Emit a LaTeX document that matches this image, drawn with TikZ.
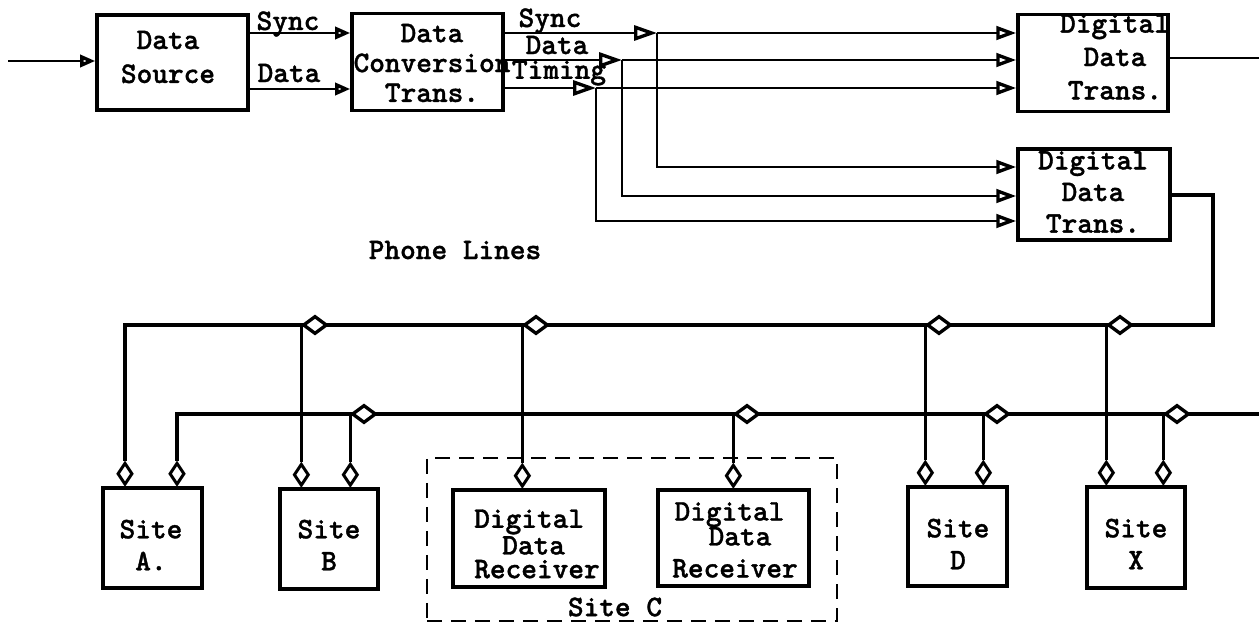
\documentclass[tikz,border=0pt]{standalone}
\usepackage{fontspec}
\newfontfamily\typew{lmmonolt10-bold.otf}[FakeBold=1.2]
\usetikzlibrary{arrows.meta,shapes.geometric}
\begin{document}
\begin{tikzpicture}[x=0.02cm,y=-0.02cm,
 tw/.style={font=\typew\fontsize{17}{#1}\selectfont}, tw/.default=18.5pt,
 box/.style={draw,line width=2pt,inner sep=0pt},
 bw/.style 2 args={minimum width=#1*0.02cm,minimum height=#2*0.02cm},
 txt/.style={tw=#1,inner sep=0pt,align=center}, txt/.default=18.5pt,
 sig/.style={line width=1.7pt},
 arrS/.style={sig,-{Triangle[open,length=0.3cm,width=0.24cm,line width=1.9pt]}},
 arrM/.style={sig,-{Triangle[open,length=0.46cm,width=0.3cm,line width=1.9pt]}},
 arrD/.style={sig,-{Triangle[open,length=0.4cm,width=0.27cm,line width=1.9pt]}},
 bus/.style={line width=2.2pt},
 bustwo/.style={line width=1.8pt},
 drop/.style={line width=1.5pt},
 pdia/.style={diamond,draw,fill=white,line width=1.9pt,inner sep=0pt,minimum width=0.48cm,minimum height=0.36cm},
 sdia/.style={diamond,draw,fill=white,line width=1.7pt,inner sep=0pt,minimum width=0.3cm,minimum height=0.44cm},
 sitec/.style={draw,line width=1.5pt,dash pattern=on 0.3cm off 0.18cm,inner sep=0pt},
]
\useasboundingbox (0,0) rectangle (1259,622);
% ---- top row boxes
\node[box,bw={151}{95}] (ds) at (172.5,62.5) {};
\node[txt=19.3pt] (dst) at (168,57) {Data\\Source};
\node[box,bw={151}{97}] (dct) at (427.5,62) {};
\node[txt=17pt] (dctt) at (432,63) {Data\\Conversion\\Trans.};
\node[box,bw={150}{97}] (ddt1) at (1093,63) {};
\node[txt=19pt] (ddt1t) at (1115,57) {Digital\\Data\\Trans.};
\node[box,bw={152}{91}] (ddt2) at (1094,194.5) {};
\node[txt=18pt] (ddt2t) at (1093,192) {Digital\\Data\\Trans.};
% ---- signal labels
\node[tw] (lsync1) at (288,24) {Sync};
\node[tw] (ldata1) at (289,73) {Data};
\node[tw] (lsync2) at (550,21) {Sync};
\node[tw] (ldata2) at (557,45) {Data};
\node[tw] (ltim) at (559,73) {Timing};
\node[tw] (pl) at (455,250) {Phone Lines};
% ---- coordinates
\coordinate (in) at (8,61);
\coordinate (ys) at (0,33);
\coordinate (yd) at (0,89);
\coordinate (j1) at (657,33);
\coordinate (j2) at (622,60);
\coordinate (j3) at (596,88);
\coordinate (k1) at (0,167);
\coordinate (k2) at (0,196);
\coordinate (k3) at (0,221);
\coordinate (o1) at (1259,58);
\coordinate (r1) at (1213,195);
\coordinate (tR) at (1213,325);
\coordinate (bR) at (1259,414);
\coordinate (xA1) at (125,0);
\coordinate (xA2) at (177,0);
% ---- top connectors
\draw[arrS] (in) -- (in -| ds.west);
\draw[arrS] (ds.east |- ys) -- (dct.west |- ys);
\draw[arrS] (ds.east |- yd) -- (dct.west |- yd);
\draw[arrM] (dct.east |- j1) -- (j1);
\draw[arrM] (dct.east |- j2) -- (j2);
\draw[arrM] (dct.east |- j3) -- (j3);
\draw[arrD] (j1) -- (ddt1.west |- j1);
\draw[arrD] (j2) -- (ddt1.west |- j2);
\draw[arrD] (j3) -- (ddt1.west |- j3);
\draw[arrD] (j1) |- (ddt2.west |- k1);
\draw[arrD] (j2) |- (ddt2.west |- k2);
\draw[arrD] (j3) |- (ddt2.west |- k3);
\draw[sig] (ddt1.east |- o1) -- (o1);
% ---- bottom boxes
\node[box,bw={99}{100}] (siteA) at (152.5,538) {};
\node[txt=18.2pt] (siteAt) at (151,545) {Site\\A.};
\node[box,bw={98}{100}] (siteB) at (329,539) {};
\node[txt=18.2pt] (siteBt) at (329,545) {Site\\B};
\node[sitec,bw={410}{163}] (siteC) at (632,539.5) {};
\node[tw] (siteCt) at (615,607) {Site C};
\node[box,bw={152}{97}] (rc1) at (529,538.5) {};
\node[tw=13.5pt,inner sep=0pt,align=left] (rc1t) at (537,544) {Digital\\\hspace*{0.56cm}Data\\Receiver};
\node[box,bw={151}{96}] (rc2) at (733.5,538) {};
\node[txt=14.2pt] (rc2t) at (735,540) {Digital\hspace*{0.22cm}\\\hspace*{0.2cm}Data\\[4pt]Receiver};
\node[box,bw={99}{99}] (siteD) at (957.5,536.5) {};
\node[txt=18.2pt] (siteDt) at (958,544) {Site\\D};
\node[box,bw={98}{101}] (siteX) at (1136,537.5) {};
\node[txt=18.2pt] (siteXt) at (1136,544) {Site\\X};
% ---- site A diamonds
\node[sdia,anchor=south] (dA1) at (siteA.north -| xA1) {};
\node[sdia,anchor=south] (dA2) at (siteA.north -| xA2) {};
% ---- phone line buses
\draw[bus] (ddt2.east |- r1) -| (tR) -- (tR -| dA1.north) -- (dA1.north);
\draw[bustwo] (bR) -- (bR -| dA2.north) -- (dA2.north);
% ---- diamonds on the buses
\node[pdia] (pd1) at (315,325) {};
\node[pdia] (pd2) at (536,325) {};
\node[pdia] (pd3) at (939,325) {};
\node[pdia] (pd4) at (1120,325) {};
\node[pdia] (qd1) at (364,414) {};
\node[pdia] (qd2) at (747,414) {};
\node[pdia] (qd3) at (997,414) {};
\node[pdia] (qd4) at (1177,414) {};
% ---- site diamonds
\node[sdia,anchor=south] (dB1) at (pd1.west |- siteB.north) {};
\node[sdia,anchor=south] (dB2) at (qd1.west |- siteB.north) {};
\node[sdia,anchor=south] (dC1) at (pd2.west |- rc1.north) {};
\node[sdia,anchor=south] (dC2) at (qd2.west |- rc2.north) {};
\node[sdia,anchor=south] (dD1) at (pd3.west |- siteD.north) {};
\node[sdia,anchor=south] (dD2) at (qd3.west |- siteD.north) {};
\node[sdia,anchor=south] (dX1) at (pd4.west |- siteX.north) {};
\node[sdia,anchor=south] (dX2) at (qd4.west |- siteX.north) {};
% ---- drops
\draw[drop] (pd1.west) -- (dB1.north);
\draw[drop] (qd1.west) -- (dB2.north);
\draw[drop] (pd2.west) -- (dC1.north);
\draw[drop] (qd2.west) -- (dC2.north);
\draw[drop] (pd3.west) -- (dD1.north);
\draw[drop] (qd3.west) -- (dD2.north);
\draw[drop] (pd4.west) -- (dX1.north);
\draw[drop] (qd4.west) -- (dX2.north);
\end{tikzpicture}
\end{document}
